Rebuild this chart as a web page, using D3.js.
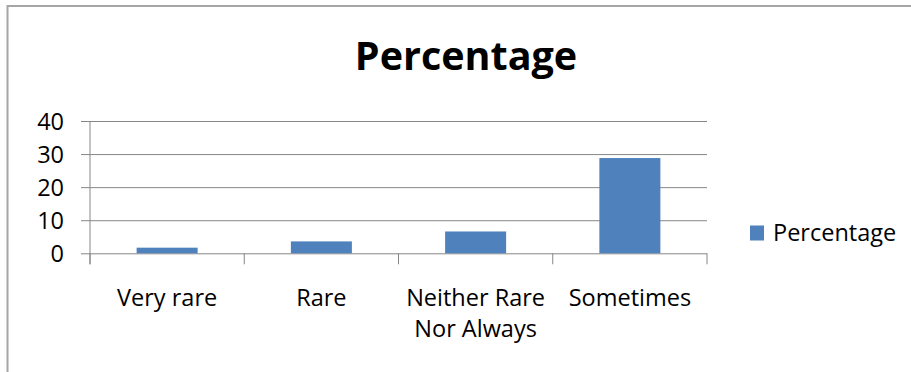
<!DOCTYPE html>
<html>
<head>
<meta charset="utf-8">
<script src="https://cdn.jsdelivr.net/npm/d3@7"></script>
<style>
  html, body { margin: 0; padding: 0; background: #fff; }
  svg { display: block; }
  text { font-family: "Open Sans", sans-serif; fill: #000; }
</style>
</head>
<body>
<svg id="chart" width="911" height="372"></svg>
<script>
const categories = ["Very rare", "Rare", "Neither Rare Nor Always", "Sometimes"];
const categoryLines = [["Very rare"], ["Rare"], ["Neither Rare", "Nor Always"], ["Sometimes"]];
const values = [1.7, 3.6, 6.6, 28.8];
const yTicks = [0, 10, 20, 30, 40];
const seriesName = "Percentage";
const titleText = "Percentage";

const svg = d3.select("#chart");
const W = 911, H = 372;
const plot = { left: 90, right: 707, top: 121, bottom: 253.3 };
const barColor = "#4F81BD";
const lineColor = "#878787";

// outer frame (top and left edges visible)
svg.append("path")
  .attr("d", `M7.5,${H} L7.5,6 L${W},6`)
  .attr("fill", "none")
  .attr("stroke", "#a6a6a6")
  .attr("stroke-width", 2);

// title
svg.append("text")
  .attr("x", 466).attr("y", 70)
  .attr("text-anchor", "middle")
  .attr("font-weight", "bold")
  .attr("font-size", 39.5)
  .text(titleText);

const x = d3.scaleBand()
  .domain(categories)
  .range([plot.left, plot.right])
  .paddingInner(0.6045)
  .paddingOuter(0.30225);

const y = d3.scaleLinear()
  .domain([0, 40])
  .range([plot.bottom, plot.top]);

// gridlines + y ticks
const yAxis = d3.axisLeft(y).tickValues(yTicks).tickSize(-(plot.right - plot.left)).tickFormat("");
const gy = svg.append("g").attr("transform", `translate(${plot.left},0)`).call(yAxis);
gy.select(".domain").remove();
gy.selectAll(".tick line").attr("stroke", lineColor).attr("stroke-width", 1).attr("x1", -9);

// y tick labels
svg.append("g").selectAll("text")
  .data(yTicks)
  .join("text")
  .attr("x", 64)
  .attr("y", d => y(d) + 8.5)
  .attr("text-anchor", "end")
  .attr("font-size", 23.5)
  .text(d => d);

// y axis line
svg.append("line")
  .attr("x1", plot.left).attr("x2", plot.left)
  .attr("y1", plot.top).attr("y2", plot.bottom + 11)
  .attr("stroke", lineColor);

// x axis category boundary ticks
const boundaries = d3.range(categories.length + 1).map(i => plot.left + i * x.step());
svg.append("g").selectAll("line")
  .data(boundaries)
  .join("line")
  .attr("x1", d => d).attr("x2", d => d)
  .attr("y1", plot.bottom).attr("y2", plot.bottom + 11)
  .attr("stroke", lineColor);

// bars
svg.append("g").selectAll("rect")
  .data(values)
  .join("rect")
  .attr("x", (d, i) => x(categories[i]))
  .attr("width", x.bandwidth())
  .attr("y", d => y(d))
  .attr("height", d => y(0) - y(d))
  .attr("fill", barColor);

// x labels
const xl = svg.append("g").selectAll("text")
  .data(categories)
  .join("text")
  .attr("x", d => x(d) + x.bandwidth() / 2)
  .attr("y", 305.5)
  .attr("text-anchor", "middle")
  .attr("font-size", 23.5);
xl.each(function(d, i) {
  const t = d3.select(this);
  categoryLines[i].forEach((ln, j) => {
    t.append("tspan")
      .attr("x", x(d) + x.bandwidth() / 2)
      .attr("dy", j === 0 ? 0 : 31.5)
      .text(ln);
  });
});

// legend
svg.append("rect")
  .attr("x", 750).attr("y", 225.5)
  .attr("width", 14).attr("height", 15)
  .attr("fill", barColor);
svg.append("text")
  .attr("x", 773).attr("y", 241)
  .attr("font-size", 23.5)
  .text(seriesName);
</script>
</body>
</html>
